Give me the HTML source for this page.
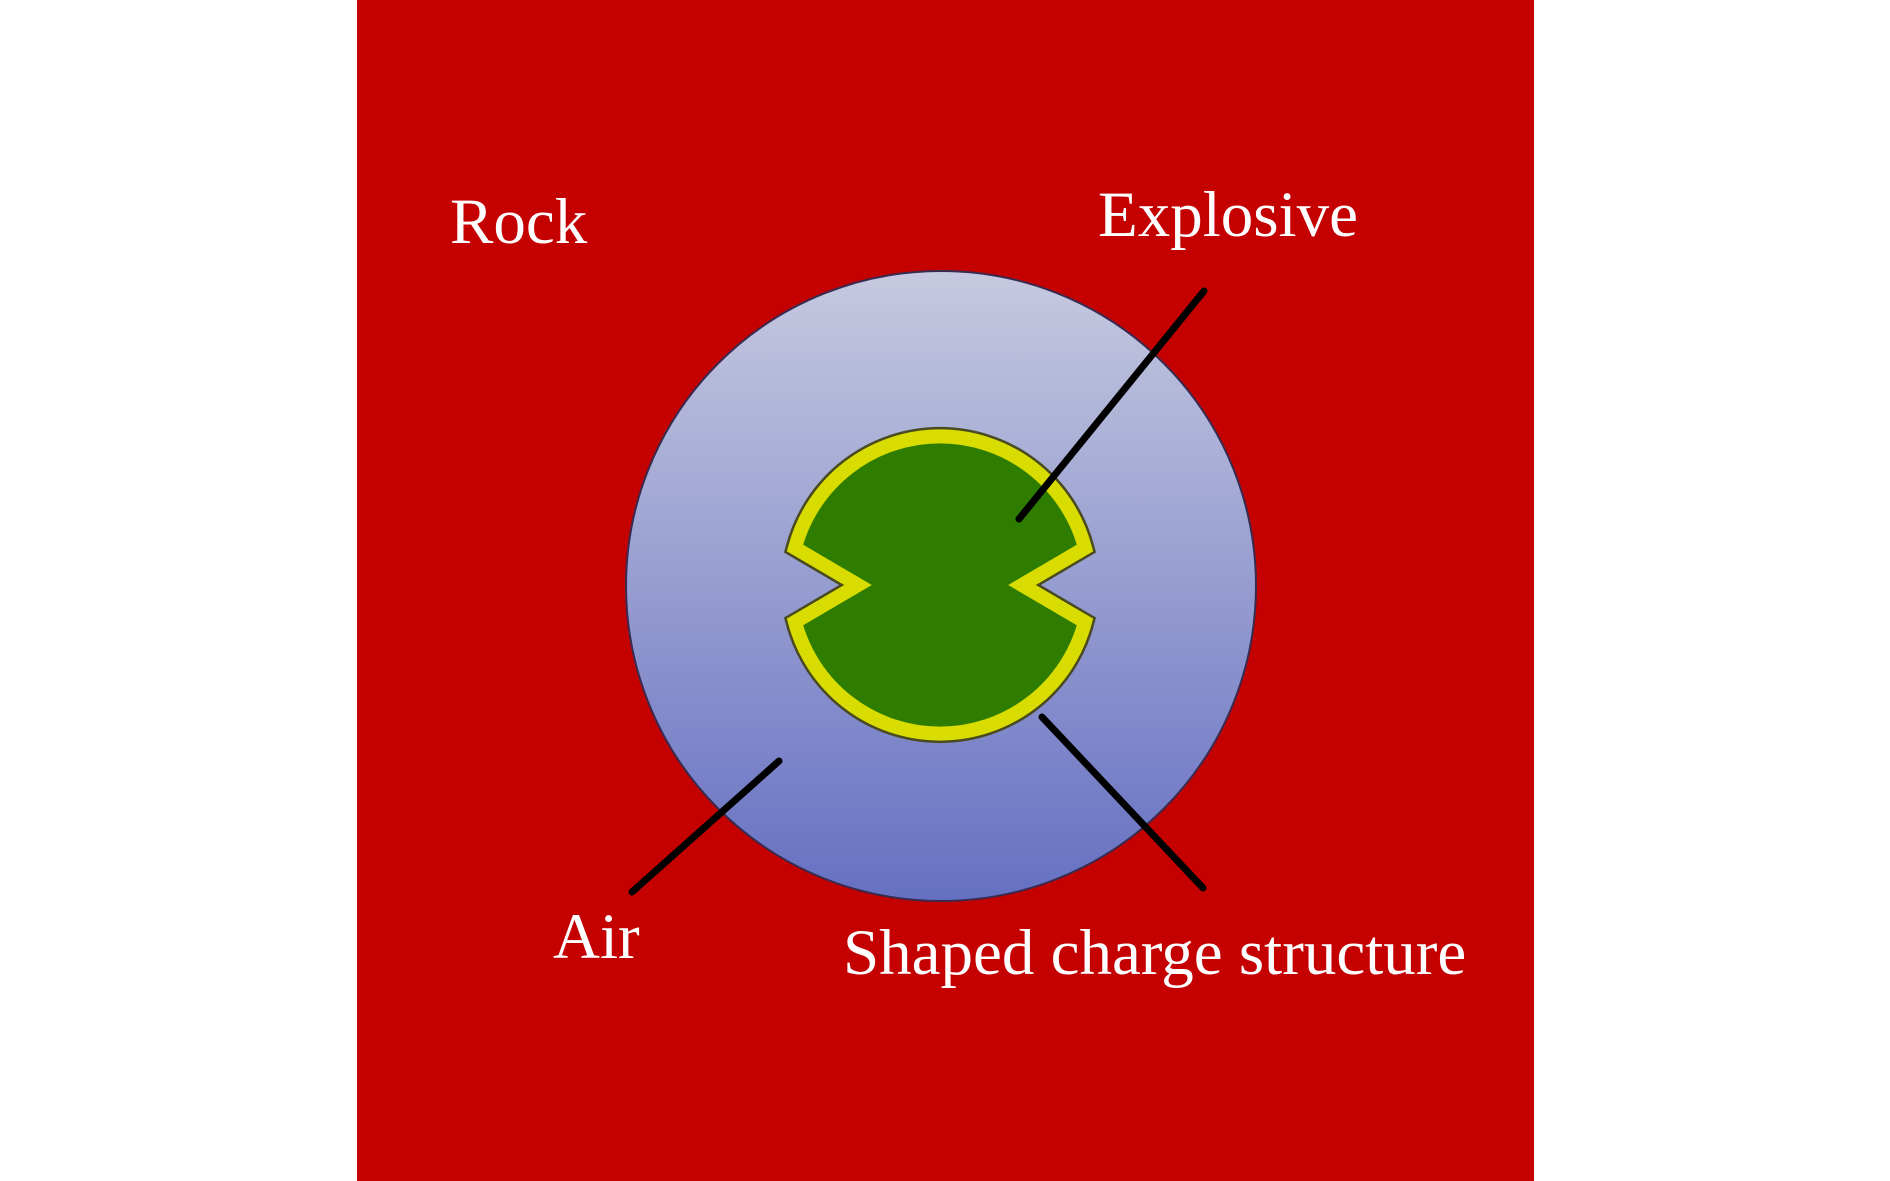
<!DOCTYPE html>
<html><head><style>html,body{margin:0;padding:0;background:#fff}svg{display:block}</style></head><body>
<svg width="1890" height="1181" viewBox="0 0 1890 1181" xmlns="http://www.w3.org/2000/svg">
<defs><linearGradient id="g" x1="0" y1="0" x2="0" y2="1"><stop offset="0" stop-color="#c6c9df"/><stop offset="1" stop-color="#6570c2"/></linearGradient></defs>
<rect x="357" y="0" width="1177" height="1181" fill="#c40000"/>
<circle cx="941" cy="586" r="315" fill="url(#g)" stroke="#3a2a50" stroke-width="2"/>
<path d="M795,548 L858,585 L795,622 A150 150 0 0 0 1085,622 L1022,585 L1085,548 A150 150 0 0 0 795,548 Z" fill="#2e7d00" stroke="#4a4a20" stroke-width="19" stroke-linejoin="miter"/>
<path d="M795,548 L858,585 L795,622 A150 150 0 0 0 1085,622 L1022,585 L1085,548 A150 150 0 0 0 795,548 Z" fill="#2e7d00" stroke="#d8dc00" stroke-width="14" stroke-linejoin="miter"/>
<g stroke="#000" stroke-width="7" stroke-linecap="round">
<line x1="1204" y1="291" x2="1019" y2="519"/>
<line x1="779" y1="761" x2="632" y2="892"/>
<line x1="1042" y1="717" x2="1203" y2="888"/>
</g>
<g fill="#fff" font-family="'Liberation Serif',serif" font-size="65">
<text x="450" y="243">Rock</text>
<text x="1098" y="236">Explosive</text>
<text x="553" y="958">Air</text>
<text x="843" y="974">Shaped charge structure</text>
</g>
</svg>
</body></html>
